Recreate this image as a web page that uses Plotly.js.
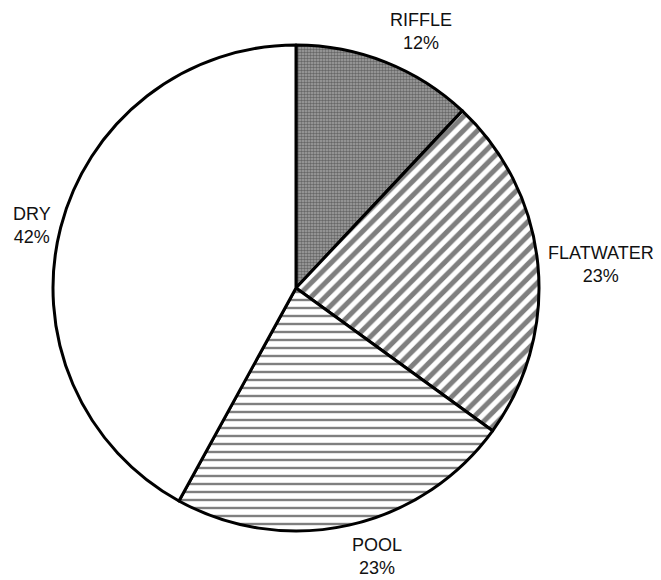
<!DOCTYPE html>
<html>
<head>
<meta charset="utf-8">
<script src="https://cdn.plot.ly/plotly-3.0.1.min.js"></script>
<style>
  html, body { margin: 0; padding: 0; background: #ffffff; }
  #chart { width: 661px; height: 580px; }
</style>
</head>
<body>
<div id="chart"></div>
<script>
// Habitat composition of the surveyed reach
const habitats = ["RIFFLE", "FLATWATER", "POOL", "DRY"];
const shares = [12, 23, 23, 42];

// Fill patterns per habitat class
const patternShapes = [".", "/", "-", ""];
const patternSizes = [3, 10, 8, 8];
const patternSolidity = [0.55, 0.5, 0.3, 0.3];
const patternBg = ["#a4a4a4", "#ffffff", "#ffffff", "#ffffff"];
const patternFg = ["#2a2a2a", "#000000", "#000000", "#000000"];

const W = 661, H = 580;
const margin = { l: 53, r: 122, t: 45, b: 49 };
const labelFont = { family: "Liberation Sans, Arial, sans-serif", size: 18, color: "#111111" };
const labelGap = 9;

// Outside labels: anchored at a point just beyond the rim on each slice's mid-angle,
// with the anchor side chosen from the direction of that angle.
function sliceLabels() {
  const plotW = W - margin.l - margin.r;
  const plotH = H - margin.t - margin.b;
  const r = Math.min(plotW, plotH) / 2;
  const total = shares.reduce((a, b) => a + b, 0);
  const out = [];
  let cum = 0;
  shares.forEach((v, i) => {
    const mid = (cum + v / 2) / total * 2 * Math.PI; // clockwise from 12 o'clock
    cum += v;
    const s = Math.sin(mid), c = Math.cos(mid);
    const rr = r + labelGap;
    // position relative to the pie centre, in paper fractions
    const x = 0.5 + (rr * s) / plotW;
    const y = 0.5 + (rr * c) / plotH;
    const xanchor = Math.abs(s) < 0.05 ? "center" : (s > 0 ? "left" : "right");
    const yanchor = c > 0.5 ? "bottom" : (c < -0.5 ? "top" : "middle");
    out.push({
      xref: "paper", yref: "paper",
      x: x, y: y, xanchor: xanchor, yanchor: yanchor,
      text: habitats[i] + "<br>" + v + "%",
      showarrow: false, align: "center",
      font: labelFont, borderpad: 0
    });
  });
  return out;
}

const trace = {
  type: "pie",
  labels: habitats,
  values: shares,
  sort: false,
  direction: "clockwise",
  rotation: 0,
  textinfo: "none",
  hoverinfo: "label+percent",
  marker: {
    colors: patternBg,
    line: { color: "#000000", width: 3 },
    pattern: {
      shape: patternShapes,
      size: patternSizes,
      solidity: patternSolidity,
      fgcolor: patternFg,
      bgcolor: patternBg,
      fillmode: "overlay"
    }
  },
  showlegend: false
};

const layout = {
  width: W,
  height: H,
  margin: margin,
  paper_bgcolor: "#ffffff",
  plot_bgcolor: "#ffffff",
  font: labelFont,
  showlegend: false,
  annotations: sliceLabels()
};

Plotly.newPlot("chart", [trace], layout, { displayModeBar: false, staticPlot: true });
</script>
</body>
</html>
